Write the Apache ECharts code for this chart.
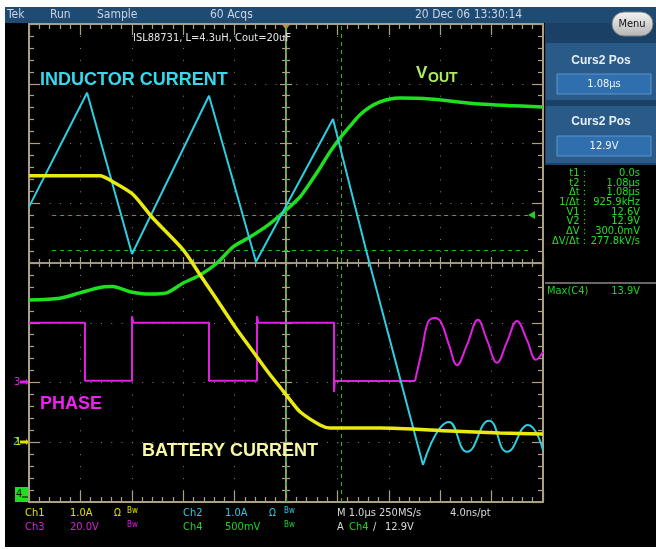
<!DOCTYPE html>
<html>
<head>
<meta charset="utf-8">
<script src="https://cdn.jsdelivr.net/npm/echarts@6/dist/echarts.min.js"></script>
<style>
  html, body { margin: 0; padding: 0; background: #fff; }
  #screen { position: absolute; left: 5px; top: 7px; width: 651px; height: 540px; background: #000; }
  #main { position: absolute; left: 0; top: 0; width: 656px; height: 549px; }
</style>
</head>
<body>
<div id="screen"></div>
<div id="main"></div>
<script>
// time in us (trigger at 0), values in screen divisions
const inductorCurrent = [
  [-5.0, 0.94], [-3.87, 2.85], [-2.996, 0.15], [-1.498, 2.80], [-0.584, 0.02],
  [0.914, 2.41], [1.556, 0.22], [2.665, -3.38]
];
const inductorRinging = [
  [2.665, -3.38], [3.171, -2.66], [3.521, -3.16], [3.949, -2.64],
  [4.300, -3.16], [4.708, -2.71], [5.0, -3.13]
];
const batteryCurrent = [
  [-5.0, 1.46], [-3.62, 1.46], [-3.37, 1.36], [-2.98, 1.15], [-2.61, 0.77],
  [-2.0, 0.22], [-1.67, -0.20], [-1.34, -0.62], [-0.99, -1.07], [-0.66, -1.46],
  [-0.31, -1.87], [-0.117, -2.075], [0.078, -2.29], [0.272, -2.49], [0.661, -2.71],
  [0.856, -2.76], [1.83, -2.76], [3.19, -2.81], [4.16, -2.845], [5.0, -2.86]
];
const vout = [
  [-5.0, -0.62], [-4.40, -0.59], [-4.01, -0.50], [-3.62, -0.41], [-3.37, -0.395],
  [-3.04, -0.48], [-2.65, -0.52], [-2.32, -0.50], [-2.0, -0.335], [-1.67, -0.20],
  [-1.34, 0.0], [-1.03, 0.27], [-0.70, 0.435], [-0.37, 0.62], [-0.06, 0.84],
  [0.272, 1.105], [0.467, 1.34], [0.661, 1.59], [0.856, 1.86], [1.051, 2.09],
  [1.245, 2.29], [1.44, 2.48], [1.634, 2.61], [1.829, 2.695], [2.023, 2.745],
  [2.218, 2.76], [2.8, 2.745], [3.77, 2.66], [5.0, 2.61]
];
const phase = [
  [-5.0, -1.0], [-3.911, -1.0], [-3.911, -1.97], [-2.996, -1.97], [-2.996, -0.89],
  [-2.97, -1.0], [-1.498, -1.0], [-1.498, -1.97], [-0.564, -1.97], [-0.564, -0.89],
  [-0.54, -1.0], [0.934, -1.0], [0.934, -2.16], [0.95, -1.97], [2.510, -1.975]
];
const phaseRinging = [
  [2.510, -1.975], [2.646, -1.456], [2.763, -0.99], [2.899, -0.92], [3.016, -0.99],
  [3.171, -1.37], [3.327, -1.71], [3.521, -1.37], [3.735, -0.95], [3.911, -1.29],
  [4.105, -1.67], [4.300, -1.32], [4.494, -0.97], [4.689, -1.29], [4.864, -1.62],
  [5.0, -1.49]
];
const cursorTimes = [0, 1.08];
const cursorLevels = [0.803, 0.218];
const cursorSpan = [-4.55, 4.75];

const headerItems = [['Tek', 7], ['Run', 50], ['Sample', 97], ['60 Acqs', 210], ['20 Dec 06 13:30:14', 415]];
const readoutLabels = ['t1 :', 't2 :', '\u0394t :', '1/\u0394t :', 'V1 :', 'V2 :', '\u0394V :', '\u0394V/\u0394t :'];
const readoutValues = ['0.0s', '1.08\u00b5s', '1.08\u00b5s', '925.9kHz', '12.6V', '12.9V', '300.0mV', '277.8kV/s'];

const TAN = '#ab9f86';
const DOT = '#808080';
const NARROW = '"Liberation Sans Narrow", "DejaVu Sans Condensed", "Roboto Condensed", "Liberation Sans", sans-serif';
const BOLD = '"Liberation Sans", Arial, sans-serif';
const gridBox = { left: 29, top: 24, width: 514, height: 478 };

function axis(kind, gi, pos, opt) {
  const isX = kind === 'x';
  return {
    type: 'value', gridIndex: gi, position: pos,
    min: isX ? -5 : -4, max: isX ? 5 : 4, interval: 1,
    axisLine: { show: true, onZero: opt.onZero, lineStyle: { color: TAN, width: opt.lw || 1.5 } },
    axisTick: { show: true, inside: opt.inside, length: opt.major, lineStyle: { color: TAN, width: 1.2 } },
    minorTick: { show: true, splitNumber: 5, length: opt.minor, lineStyle: { color: TAN, width: 1.2 } },
    axisLabel: { show: false },
    splitLine: opt.split ? { show: true, lineStyle: { color: DOT, width: 1, type: isX ? [1, 10.95] : [1, 9.28] } } : { show: false }
  };
}

function txt(x, y, s, color, font, align) {
  return { type: 'text', x: x, y: y, z: 50, style: { text: s, fill: color, font: font, align: align || 'left', verticalAlign: 'middle' } };
}

const graphics = [
  { type: 'rect', shape: { x: 5, y: 7, width: 651, height: 16 }, style: { fill: '#1f4a72' } },
  { type: 'rect', shape: { x: 545, y: 23, width: 111, height: 142 }, style: { fill: '#1b4066' } },
  { type: 'rect', shape: { x: 546, y: 43, width: 110, height: 57 }, style: { fill: '#2a5b88' } },
  { type: 'rect', shape: { x: 546, y: 106, width: 110, height: 57 }, style: { fill: '#2a5b88' } },
  { type: 'rect', shape: { x: 557, y: 74, width: 94, height: 20 }, style: { fill: '#2f6fae', stroke: '#5c95cc', lineWidth: 1 } },
  { type: 'rect', shape: { x: 557, y: 136, width: 94, height: 20 }, style: { fill: '#2f6fae', stroke: '#5c95cc', lineWidth: 1 } },
  { type: 'rect', shape: { x: 612, y: 12, width: 41, height: 24, r: 12 },
    style: { fill: new echarts.graphic.LinearGradient(0, 0, 0, 1, [{ offset: 0, color: '#f4f4f4' }, { offset: 1, color: '#b4b4b4' }]), stroke: '#7a7a7a', lineWidth: 1 } },
  txt(632, 24, 'Menu', '#111', '11px ' + NARROW, 'center'),
  txt(601, 61, 'Curs2 Pos', '#e6edf5', 'bold 12px ' + BOLD, 'center'),
  txt(604, 84, readoutValues[1], '#f0f4fa', '11px ' + NARROW, 'center'),
  txt(601, 122, 'Curs2 Pos', '#e6edf5', 'bold 12px ' + BOLD, 'center'),
  txt(604, 146, readoutValues[5], '#f0f4fa', '11px ' + NARROW, 'center'),
  { type: 'line', shape: { x1: 545, y1: 283, x2: 656, y2: 283 }, style: { stroke: '#8a8a8a', lineWidth: 1.5 } },
  txt(547, 291, 'Max(C4)', '#22d022', '11px ' + NARROW),
  txt(640, 291, '13.9V', '#22d022', '11px ' + NARROW, 'right'),
  // trigger position marker and level marker
  { type: 'polygon', shape: { points: [[281, 23], [291, 23], [286, 30]] }, style: { fill: '#f07020' } },
  { type: 'polygon', shape: { points: [[528, 215], [535, 211], [535, 219]] }, style: { fill: '#22d022' } },
  // channel markers
  txt(14, 382, '3', '#e020e0', '11px ' + NARROW),
  { type: 'polygon', shape: { points: [[20, 380.5], [26, 380.5], [26, 379], [29, 382], [26, 385], [26, 383.5], [20, 383.5]] }, style: { fill: '#e020e0' } },
  txt(13, 442, '2', '#30c8e0', '11px ' + NARROW),
  txt(15, 442, '1', '#e0e000', '11px ' + NARROW),
  { type: 'polygon', shape: { points: [[20, 440.5], [26, 440.5], [26, 439], [29, 442], [26, 445], [26, 443.5], [20, 443.5]] }, style: { fill: '#e0e000' } },
  { type: 'rect', shape: { x: 15, y: 487, width: 14, height: 15 }, style: { fill: '#22dd22' } },
  txt(16, 494, '4', '#000', '11px ' + NARROW),
  { type: 'line', shape: { x1: 22, y1: 497, x2: 28, y2: 497 }, style: { stroke: '#000', lineWidth: 1 } },
  // trace annotations
  txt(133, 38, 'ISL88731, L=4.3uH, Cout=20uF', '#e4e4e4', '11px ' + NARROW),
  txt(40, 80, 'INDUCTOR CURRENT', '#36d8ec', 'bold 18px ' + BOLD),
  txt(416, 73, 'V', '#acee5c', 'bold 17px ' + BOLD),
  txt(428, 78, 'OUT', '#acee5c', 'bold 14px ' + BOLD),
  txt(40, 404, 'PHASE', '#f020f0', 'bold 18px ' + BOLD),
  txt(142, 451, 'BATTERY CURRENT', '#f8f8a4', 'bold 18px ' + BOLD),
  // bottom readout
  txt(25, 513, 'Ch1', '#e0e000', '11px ' + NARROW), txt(70, 513, '1.0A', '#e0e000', '11px ' + NARROW),
  txt(114, 513, '\u03a9', '#e0e000', '10px ' + NARROW), txt(127, 511, 'Bw', '#e0e000', '8px ' + NARROW),
  txt(183, 513, 'Ch2', '#30c8e0', '11px ' + NARROW), txt(225, 513, '1.0A', '#30c8e0', '11px ' + NARROW),
  txt(269, 513, '\u03a9', '#30c8e0', '10px ' + NARROW), txt(284, 511, 'Bw', '#30c8e0', '8px ' + NARROW),
  txt(337, 513, 'M 1.0\u00b5s 250MS/s', '#d8d8d8', '11px ' + NARROW), txt(450, 513, '4.0ns/pt', '#d8d8d8', '11px ' + NARROW),
  txt(25, 527, 'Ch3', '#d820d8', '11px ' + NARROW), txt(70, 527, '20.0V', '#d820d8', '11px ' + NARROW),
  txt(127, 525, 'Bw', '#d820d8', '8px ' + NARROW),
  txt(183, 527, 'Ch4', '#22d022', '11px ' + NARROW), txt(225, 527, '500mV', '#22d022', '11px ' + NARROW),
  txt(284, 525, 'Bw', '#22d022', '8px ' + NARROW),
  txt(337, 527, 'A', '#d8d8d8', '11px ' + NARROW), txt(349, 527, 'Ch4', '#22d022', '11px ' + NARROW),
  txt(373, 527, '\u2215', '#d8d8d8', '11px ' + NARROW), txt(385, 527, '12.9V', '#d8d8d8', '11px ' + NARROW)
];
headerItems.forEach(function (h) { graphics.push(txt(h[1], 15, h[0], '#c9d3e2', '12px ' + NARROW)); });
readoutLabels.forEach(function (l, i) {
  const y = 173 + i * 9.7;
  graphics.push(txt(586, y, l, '#26dc26', '11px ' + NARROW, 'right'));
  graphics.push(txt(640, y, readoutValues[i], '#26dc26', '11px ' + NARROW, 'right'));
});

const chart = echarts.init(document.getElementById('main'), null, { renderer: 'canvas' });
chart.setOption({
  animation: false,
  grid: [gridBox, gridBox, gridBox, gridBox].map(function (g) { return Object.assign({}, g); }),
  xAxis: [
    axis('x', 0, 'bottom', { onZero: false, inside: true, major: 11, minor: 5, split: true, lw: 2 }),
    axis('x', 1, 'top', { onZero: false, inside: true, major: 11, minor: 5, lw: 2 }),
    axis('x', 2, 'bottom', { onZero: true, inside: true, major: 6, minor: 4 }),
    axis('x', 3, 'bottom', { onZero: true, inside: false, major: 6, minor: 4 })
  ],
  yAxis: [
    axis('y', 0, 'left', { onZero: false, inside: true, major: 11, minor: 5, split: true, lw: 2 }),
    axis('y', 1, 'right', { onZero: false, inside: true, major: 11, minor: 5, lw: 2 }),
    axis('y', 2, 'left', { onZero: true, inside: true, major: 6, minor: 4 }),
    axis('y', 3, 'left', { onZero: true, inside: false, major: 6, minor: 4 })
  ],
  graphic: graphics,
  series: [
    {
      type: 'line', data: phase, showSymbol: false, lineStyle: { color: '#e020e0', width: 2 }, z: 3,
      markLine: {
        silent: true, symbol: 'none', label: { show: false },
        lineStyle: { color: '#1fbf1f', type: [4, 4], width: 1 },
        data: [
          { xAxis: cursorTimes[0] }, { xAxis: cursorTimes[1] },
          [{ coord: [cursorSpan[0], cursorLevels[0]] }, { coord: [cursorSpan[1], cursorLevels[0]] }],
          [{ coord: [cursorSpan[0], cursorLevels[1]] }, { coord: [cursorSpan[1], cursorLevels[1]] }]
        ]
      }
    },
    { type: 'line', data: phaseRinging, smooth: 0.4, showSymbol: false, lineStyle: { color: '#e020e0', width: 2 }, z: 3 },
    { type: 'line', data: vout, smooth: 0.25, showSymbol: false, lineStyle: { color: '#1ee01e', width: 3.5 }, z: 4 },
    { type: 'line', data: inductorCurrent, showSymbol: false, lineStyle: { color: '#2ccfe0', width: 2 }, z: 5 },
    { type: 'line', data: inductorRinging, smooth: 0.5, showSymbol: false, lineStyle: { color: '#2ccfe0', width: 2 }, z: 5 },
    { type: 'line', data: batteryCurrent, smooth: 0.25, showSymbol: false, lineStyle: { color: '#eaea10', width: 3.5 }, z: 6 }
  ]
});
</script>
</body>
</html>
